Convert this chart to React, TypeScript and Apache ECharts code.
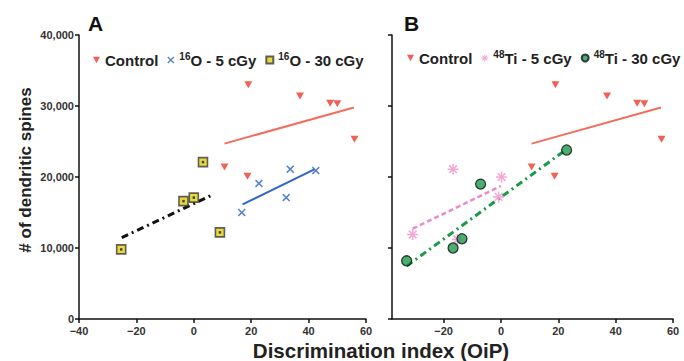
import React, { useEffect, useRef } from "react";
import * as echarts from "echarts";

// ---- data ----
const controlX = [19, 37, 47.5, 50, 56, 10.7, 18.7];
const controlY = [33000, 31400, 30400, 30300, 25300, 21400, 20100];
const o5X = [22.7, 33.6, 42.5, 32.2, 16.7];
const o5Y = [19100, 21100, 20900, 17100, 15000];
const o30X = [3.2, 0, -3.6, 9.1, -25.3];
const o30Y = [22100, 17100, 16600, 12200, 9800];
const ti5X = [-16.7, 0.2, -0.8, -30.8, -15.2];
const ti5Y = [21100, 20000, 17200, 11900, 11200];
const ti30X = [22.9, -7.1, -13.6, -16.7, -32.9];
const ti30Y = [23800, 19000, 11300, 10000, 8200];

// fitted lines: [x, y] endpoints
const controlFitX = [10.7, 55.8];
const controlFitY = [24700, 29800];
const o5FitX = [17.0, 42.0];
const o5FitY = [16150, 21080];
const o30FitX = [-25.1, 6.9];
const o30FitY = [11450, 17560];
const ti5FitX = [-30.8, 0];
const ti5FitY = [12720, 18730];
const ti30FitX = [-32.9, 22.2];
const ti30FitY = [7460, 23700];

const yTicks = [0, 10000, 20000, 30000, 40000];
const xTicksB = [-20, 0, 20, 40, 60];

const namesA = ["Control", "16O - 5 cGy", "16O - 30 cGy"];
const namesB = ["Control", "48Ti - 5 cGy", "48Ti - 30 cGy"];

const zip = (xs: number[], ys: number[]) => xs.map((x, i) => [x, ys[i]]);

const FONT = "Liberation Sans, Arial, sans-serif";
const X_PATH =
  "path://M1.4,0 L5,3.6 L8.6,0 L10,1.4 L6.4,5 L10,8.6 L8.6,10 L5,6.4 L1.4,10 L0,8.6 L3.6,5 L0,1.4 Z";
const AST_PATH =
  "path://M4.3,0 L5.7,0 L5.7,3.3 L8,1 L9,2 L6.7,4.3 L10,4.3 L10,5.7 L6.7,5.7 L9,8 L8,9 L5.7,6.7 L5.7,10 L4.3,10 L4.3,6.7 L2,9 L1,8 L3.3,5.7 L0,5.7 L0,4.3 L3.3,4.3 L1,2 L2,1 L4.3,3.3 Z";
const TRI_DOWN = "path://M0,0 L10,0 L5,9 Z";

const minus = (v: number) => String(v).replace("-", "\u2212");

export default function App() {
  const ref = useRef<HTMLDivElement>(null);
  useEffect(() => {
    if (!ref.current) return;
    const chart = echarts.init(ref.current, null, { renderer: "svg" });

    const axisLine = { show: true, onZero: false, lineStyle: { color: "#111", width: 1.5 } };
    const axisTick = { show: true, inside: false, length: 4, lineStyle: { color: "#111", width: 1.5 } };
    const tickLabel = {
      color: "#333",
      fontFamily: FONT,
      fontWeight: "bold" as const,
      fontSize: 11,
    };
    const legendText = {
      color: "#222",
      fontFamily: FONT,
      fontWeight: "bold" as const,
      fontSize: 15,
      rich: {
        sup: {
          fontFamily: FONT,
          fontWeight: "bold" as const,
          fontSize: 10,
          color: "#222",
          verticalAlign: "top" as const,
          lineHeight: 10,
        },
        t: {
          fontFamily: FONT,
          fontWeight: "bold" as const,
          fontSize: 15,
          color: "#222",
          lineHeight: 18,
        },
      },
    };
    const legendFormatter = (name: string) => {
      const m = name.match(/^(\d+)(.*)$/);
      if (m) return "{sup|" + m[1] + "}{t|" + m[2] + "}";
      return "{t|" + name + "}";
    };

    const controlSeries = (idx: number) => ({
      name: "Control",
      type: "scatter",
      xAxisIndex: idx,
      yAxisIndex: idx,
      symbol: TRI_DOWN,
      symbolSize: [8, 7],
      itemStyle: { color: "#ef3a2a" },
      data: zip(controlX, controlY),
      z: 3,
    });
    const fitLine = (
      name: string,
      idx: number,
      xs: number[],
      ys: number[],
      color: string,
      type: any,
      width: number
    ) => ({
      name,
      type: "line",
      xAxisIndex: idx,
      yAxisIndex: idx,
      symbol: "none",
      showSymbol: false,
      data: zip(xs, ys),
      lineStyle: { color, type, width, cap: "butt" },
      z: 2,
      silent: true,
    });

    chart.setOption({
      animation: false,
      backgroundColor: "#ffffff",
      grid: [
        { left: 79, top: 35, width: 287, height: 284 },
        { left: 392, top: 35, width: 281, height: 284 },
      ],
      xAxis: [
        {
          gridIndex: 0,
          type: "value",
          min: -40,
          max: 60,
          interval: 20,
          axisLine,
          axisTick,
          splitLine: { show: false },
          axisLabel: { ...tickLabel, margin: 6, formatter: minus },
        },
        {
          gridIndex: 1,
          type: "value",
          min: -38,
          max: 60,
          axisLine,
          axisTick: { ...axisTick, customValues: xTicksB },
          splitLine: { show: false },
          axisLabel: { ...tickLabel, margin: 6, customValues: xTicksB, formatter: minus },
        },
      ],
      yAxis: [
        {
          gridIndex: 0,
          type: "value",
          min: yTicks[0],
          max: yTicks[yTicks.length - 1],
          interval: 10000,
          axisLine,
          axisTick,
          splitLine: { show: false },
          axisLabel: {
            ...tickLabel,
            margin: 5,
            formatter: (v: number) => v.toLocaleString("en-US"),
          },
        },
        {
          gridIndex: 1,
          type: "value",
          min: yTicks[0],
          max: yTicks[yTicks.length - 1],
          interval: 10000,
          axisLine,
          axisTick,
          splitLine: { show: false },
          axisLabel: { show: false },
        },
      ],
      legend: [
        {
          data: [
            { name: namesA[0], icon: TRI_DOWN },
            { name: namesA[1] },
            { name: namesA[2] },
          ],
          left: 88,
          top: 46,
          width: 320,
          itemWidth: 7,
          itemHeight: 7,
          itemGap: 9,
          textStyle: legendText,
          formatter: legendFormatter,
          selectedMode: false,
        },
        {
          data: [
            { name: namesB[0], icon: TRI_DOWN },
            { name: namesB[1] },
            { name: namesB[2] },
          ],
          left: 402,
          top: 44,
          width: 320,
          itemWidth: 7,
          itemHeight: 7,
          itemGap: 9,
          textStyle: legendText,
          formatter: legendFormatter,
          selectedMode: false,
        },
      ],
      graphic: [
        {
          type: "text",
          left: 88,
          top: 13,
          style: { text: "A", font: "bold 21px " + FONT, fill: "#111" },
        },
        {
          type: "text",
          left: 404,
          top: 13,
          style: { text: "B", font: "bold 21px " + FONT, fill: "#111" },
        },
        {
          type: "text",
          x: 25,
          y: 170,
          rotation: Math.PI / 2,
          style: {
            text: "# of dendritic spines",
            font: "bold 17px " + FONT,
            fill: "#222",
            align: "center",
            verticalAlign: "middle",
          },
        },
        {
          type: "text",
          x: 381,
          y: 350,
          style: {
            text: "Discrimination index (OiP)",
            font: "bold 20.5px " + FONT,
            fill: "#222",
            align: "center",
            verticalAlign: "middle",
          },
        },
      ],
      series: [
        // Panel A
        fitLine("Control fit A", 0, controlFitX, controlFitY, "#f36d5c", "solid", 2),
        fitLine("16O 5 fit", 0, o5FitX, o5FitY, "#2f67c4", "solid", 2),
        fitLine("16O 30 fit", 0, o30FitX, o30FitY, "#111111", [7, 4, 2, 4], 3),
        controlSeries(0),
        {
          name: "16O - 5 cGy",
          type: "scatter",
          xAxisIndex: 0,
          yAxisIndex: 0,
          symbol: X_PATH,
          symbolSize: 8,
          itemStyle: { color: "#2f63c0" },
          data: zip(o5X, o5Y),
          z: 3,
        },
        {
          name: "16O - 30 cGy",
          type: "scatter",
          xAxisIndex: 0,
          yAxisIndex: 0,
          symbol: "rect",
          symbolSize: 9,
          itemStyle: { color: "#e2cf12", borderColor: "#3a3a3a", borderWidth: 1.6 },
          data: zip(o30X, o30Y),
          z: 3,
        },
        {
          name: "16O - 30 cGy dot",
          type: "scatter",
          xAxisIndex: 0,
          yAxisIndex: 0,
          symbol: "rect",
          symbolSize: 2.5,
          itemStyle: { color: "#222" },
          data: zip(o30X, o30Y),
          z: 4,
          silent: true,
        },
        // Panel B
        fitLine("Control fit B", 1, controlFitX, controlFitY, "#f36d5c", "solid", 2),
        fitLine("48Ti 5 fit", 1, ti5FitX, ti5FitY, "#ea8ccb", [5, 3], 2.5),
        fitLine("48Ti 30 fit", 1, ti30FitX, ti30FitY, "#1a9a48", [7, 4, 2, 4], 3),
        controlSeries(1),
        {
          name: "48Ti - 5 cGy",
          type: "scatter",
          xAxisIndex: 1,
          yAxisIndex: 1,
          symbol: AST_PATH,
          symbolSize: 11,
          itemStyle: { color: "#f2a0d2", opacity: 0.9 },
          data: zip(ti5X, ti5Y),
          z: 3,
        },
        {
          name: "48Ti - 30 cGy",
          type: "scatter",
          xAxisIndex: 1,
          yAxisIndex: 1,
          symbol: "circle",
          symbolSize: 10,
          itemStyle: { color: "#1c9a4c", borderColor: "#111", borderWidth: 1.3 },
          data: zip(ti30X, ti30Y),
          z: 4,
        },
      ],
    });
    return () => chart.dispose();
  }, []);

  return (
    <div
      ref={ref}
      style={{ position: "fixed", left: 0, top: 0, width: 684, height: 361 }}
    />
  );
}
